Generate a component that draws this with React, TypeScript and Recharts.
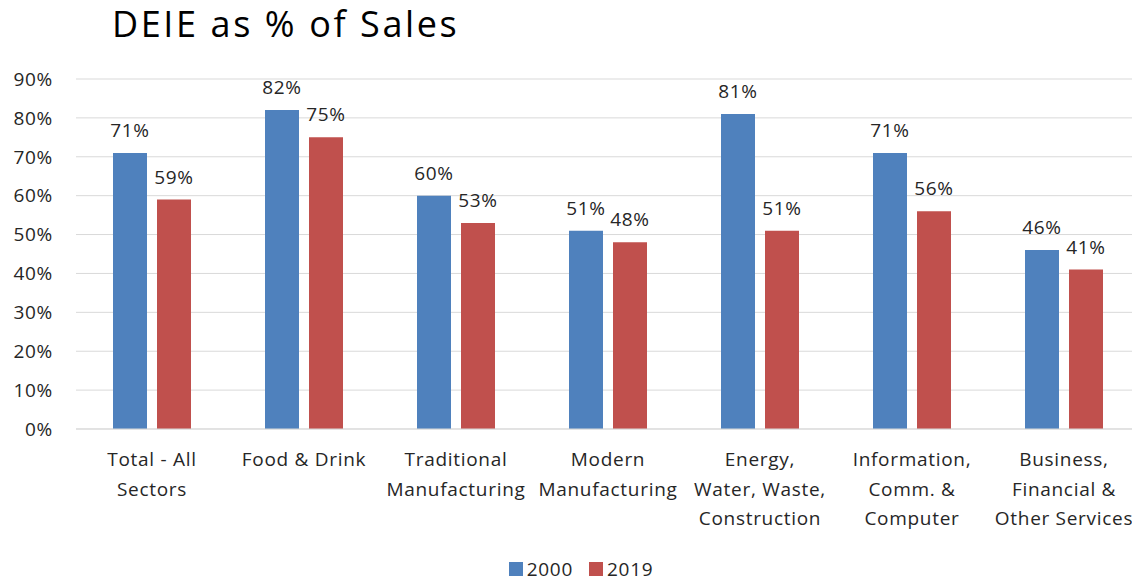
import { Bar, BarChart, CartesianGrid, LabelList, Legend, XAxis, YAxis } from "recharts";

const categories = [
  "Total - All\nSectors",
  "Food & Drink",
  "Traditional\nManufacturing",
  "Modern\nManufacturing",
  "Energy,\nWater, Waste,\nConstruction",
  "Information,\nComm. &\nComputer",
  "Business,\nFinancial &\nOther Services",
];
const values2000 = [71, 82, 60, 51, 81, 71, 46];
const values2019 = [59, 75, 53, 48, 51, 56, 41];
const yTicks = [0, 10, 20, 30, 40, 50, 60, 70, 80, 90];

const SERIES = [
  { key: "y2000", name: "2000", color: "#4F81BD" },
  { key: "y2019", name: "2019", color: "#C0504D" },
];

const FONT = "'Open Sans', sans-serif";
const TEXT = "#262626";
const SPACING = 0.7;

const data = categories.map((category, i) => ({
  category,
  y2000: values2000[i],
  y2019: values2019[i],
}));

function CategoryTick({ x, y, payload }: any) {
  const lines = String(payload.value).split("\n");
  return (
    <text
      x={x}
      y={y + 29}
      textAnchor="middle"
      fill={TEXT}
      fontSize={19}
      fontFamily={FONT}
      letterSpacing={SPACING}
    >
      {lines.map((line, i) => (
        <tspan key={line} x={x} dy={i === 0 ? 0 : 29.5}>
          {line}
        </tspan>
      ))}
    </text>
  );
}

function LegendContent() {
  return (
    <div
      style={{
        display: "flex",
        justifyContent: "center",
        gap: 16,
        fontFamily: FONT,
        fontSize: 19,
        lineHeight: "22px",
        letterSpacing: SPACING,
        color: TEXT,
        paddingTop: 3,
        paddingLeft: 22,
      }}
    >
      {SERIES.map((s) => (
        <span key={s.key} style={{ display: "flex", alignItems: "center", gap: 4 }}>
          <span style={{ width: 14, height: 14, background: s.color, display: "inline-block" }} />
          {s.name}
        </span>
      ))}
    </div>
  );
}

export default function App() {
  return (
    <div style={{ position: "absolute", left: 0, top: 0, width: 1132, height: 583, overflow: "hidden", background: "#fff" }}>
      <div
        style={{
          position: "absolute",
          left: 112,
          top: 1,
          fontFamily: FONT,
          fontSize: 36,
          letterSpacing: 2.6,
          color: "#000",
          whiteSpace: "nowrap",
          lineHeight: "46px",
        }}
      >
        DEIE as % of Sales
      </div>
      <BarChart
        width={1140}
        height={583}
        data={data}
        margin={{ top: 79, right: 0, bottom: 0, left: 0 }}
        barSize={34}
        barGap={10}
      >
        <CartesianGrid vertical={false} stroke="#D9D9D9" />
        <XAxis
          dataKey="category"
          interval={0}
          tickLine={false}
          axisLine={{ stroke: "#D9D9D9" }}
          tick={<CategoryTick />}
          height={126}
        />
        <YAxis
          domain={[0, 90]}
          ticks={yTicks}
          width={76}
          axisLine={false}
          tickLine={false}
          tickSize={0}
          tickMargin={23}
          tickFormatter={(v) => `${v}%`}
          tick={{ fill: TEXT, fontSize: 19, fontFamily: FONT, letterSpacing: SPACING }}
        />
        <Legend verticalAlign="bottom" content={<LegendContent />} wrapperStyle={{ height: 28 }} />
        {SERIES.map((s) => (
          <Bar key={s.key} dataKey={s.key} name={s.name} fill={s.color} isAnimationActive={false}>
            <LabelList
              dataKey={s.key}
              position="top"
              offset={16}
              formatter={(v: any) => `${v}%`}
              fill={TEXT}
              fontSize={19}
              fontFamily={FONT}
              letterSpacing={SPACING}
            />
          </Bar>
        ))}
      </BarChart>
    </div>
  );
}
